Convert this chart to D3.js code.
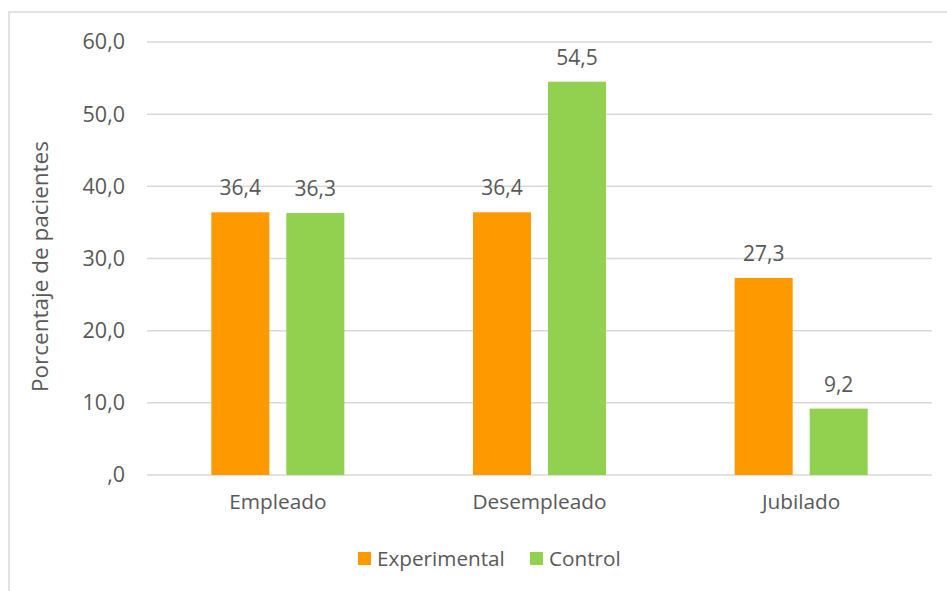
<!DOCTYPE html>
<html>
<head>
<meta charset="utf-8">
<script src="https://cdn.jsdelivr.net/npm/d3@7"></script>
<style>
  html, body { margin: 0; padding: 0; background: #fff; }
  svg { display: block; }
  text { font-family: "Open Sans", "Noto Sans", sans-serif; fill: #595959; }
</style>
</head>
<body>
<svg id="chart" width="947" height="591"></svg>
<script>
// Situación laboral de los pacientes por grupo (%)
const categories = ["Empleado", "Desempleado", "Jubilado"];
const seriesNames = ["Experimental", "Control"];
const experimental = [36.4, 36.4, 27.3];
const control = [36.3, 54.5, 9.2];
const yTicks = [0, 10, 20, 30, 40, 50, 60];
const colors = ["#FF9900", "#92D050"];

const svg = d3.select("#chart");
const W = 947, H = 591;

// outer chart frame
svg.append("rect")
  .attr("x", 9).attr("y", 12)
  .attr("width", W + 20).attr("height", H + 20)
  .attr("fill", "#fff").attr("stroke", "#d9d9d9").attr("stroke-width", 1.5);

const plot = { left: 147, right: 932, top: 42, bottom: 475 };

const x = d3.scaleBand().domain(categories)
  .range([plot.left, plot.right]).paddingInner(0).paddingOuter(0);
const y = d3.scaleLinear().domain([0, 60]).range([plot.bottom, plot.top]);

const fmt = v => v === 0 ? ",0" : d3.format(".1f")(v).replace(".", ",");

// horizontal gridlines
svg.append("g").selectAll("line").data(yTicks).join("line")
  .attr("x1", plot.left).attr("x2", plot.right)
  .attr("y1", d => y(d)).attr("y2", d => y(d))
  .attr("stroke", "#d9d9d9").attr("stroke-width", 1.5);

// y tick labels
const yAxis = d3.axisLeft(y).tickValues(yTicks).tickFormat(fmt).tickSize(0).tickPadding(22);
const gy = svg.append("g").attr("transform", `translate(${plot.left},0)`).call(yAxis);
gy.select(".domain").remove();
gy.selectAll("text").style("font-size", "21.5px").attr("fill", "#595959")
  .style("font-family", "'Open Sans', sans-serif");

// x category labels
const xAxis = d3.axisBottom(x).tickSize(0).tickPadding(19);
const gx = svg.append("g").attr("transform", `translate(0,${plot.bottom})`).call(xAxis);
gx.select(".domain").remove();
gx.selectAll("text").style("font-size", "20.8px").attr("fill", "#595959")
  .style("font-family", "'Open Sans', sans-serif");

// y axis title
svg.append("text")
  .attr("transform", `translate(48,${(plot.top + plot.bottom) / 2 + 8}) rotate(-90)`)
  .attr("text-anchor", "middle")
  .style("font-size", "22.5px")
  .text("Porcentaje de pacientes");

// grouped bars
const barW = 58, gap = 17;
const sub = d3.scaleOrdinal().domain(seriesNames)
  .range([-(barW + gap) / 2, (barW + gap) / 2]);

const rows = categories.map((c, i) => ({
  cat: c,
  vals: [{ s: seriesNames[0], v: experimental[i] }, { s: seriesNames[1], v: control[i] }]
}));

const groups = svg.append("g").selectAll("g").data(rows).join("g")
  .attr("transform", d => `translate(${x(d.cat) + x.bandwidth() / 2},0)`);

groups.selectAll("rect").data(d => d.vals).join("rect")
  .attr("x", d => sub(d.s) - barW / 2)
  .attr("width", barW)
  .attr("y", d => y(d.v))
  .attr("height", d => y(0) - y(d.v))
  .attr("fill", (d, i) => colors[i]);

groups.selectAll("text.val").data(d => d.vals).join("text")
  .attr("class", "val")
  .attr("x", d => sub(d.s))
  .attr("y", d => y(d.v) - 17)
  .attr("text-anchor", "middle")
  .style("font-size", "21px")
  .attr("fill", "#404040")
  .text(d => fmt(d.v));

// legend
const legend = svg.append("g").attr("transform", "translate(358,552)");
const items = [{ name: seriesNames[0], dx: 0 }, { name: seriesNames[1], dx: 172 }];
items.forEach((it, i) => {
  legend.append("rect").attr("x", it.dx).attr("y", 0)
    .attr("width", 13).attr("height", 13).attr("fill", colors[i]);
  legend.append("text").attr("x", it.dx + 19).attr("y", 14)
    .style("font-size", "20.7px").text(it.name);
});
</script>
</body>
</html>
